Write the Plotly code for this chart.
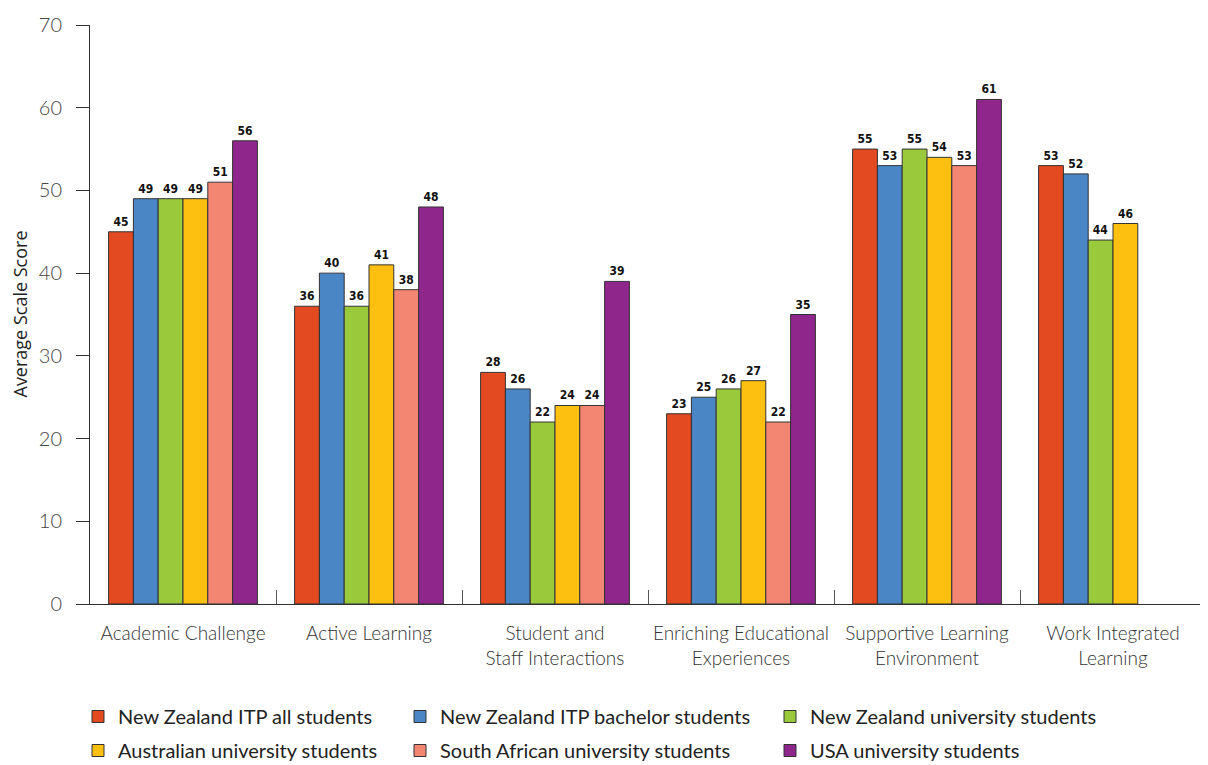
import plotly.graph_objects as go

categories = ["Academic Challenge", "Active Learning", "Student and<br>Staff Interactions",
              "Enriching Educational<br>Experiences", "Supportive Learning<br>Environment",
              "Work Integrated<br>Learning"]
series_names = ["New Zealand ITP all students", "New Zealand ITP bachelor students",
                "New Zealand university students", "Australian university students",
                "South African university students", "USA university students"]
nz_itp_all = [45, 36, 28, 23, 55, 53]
nz_itp_bach = [49, 40, 26, 25, 53, 52]
nz_uni = [49, 36, 22, 26, 55, 44]
aus_uni = [49, 41, 24, 27, 54, 46]
sa_uni = [51, 38, 24, 22, 53, None]
usa_uni = [56, 48, 39, 35, 61, None]
y_ticks = [0, 10, 20, 30, 40, 50, 60, 70]

colors = ["#E44A22", "#4A86C5", "#9AC93C", "#FDC010", "#F28673", "#8E268C"]
values = [nz_itp_all, nz_itp_bach, nz_uni, aus_uni, sa_uni, usa_uni]
legend_ids = ["legend", "legend2", "legend3", "legend", "legend2", "legend3"]

W, H = 1200, 757

fig = go.Figure()
for i, (name, vals) in enumerate(zip(series_names, values)):
    fig.add_trace(go.Bar(
        x=categories, y=vals, name=name,
        marker=dict(color=colors[i], line=dict(color="#333333", width=1)),
        text=[("" if v is None else str(v)) for v in vals],
        textposition="outside",
        textfont=dict(family="DejaVu Sans Condensed", size=12, color="#111111", weight="bold"),
        cliponaxis=False,
        legend=legend_ids[i],
        legendgroup=name,
    ))

leg_common = dict(font=dict(family="Lato", size=20, color="#222222"),
                  xref="container", yref="container", yanchor="top", xanchor="left",
                  tracegroupgap=5, bgcolor="rgba(0,0,0,0)", itemwidth=30)

leg_top = 1 - 689 / H

fig.update_layout(
    width=W, height=H,
    margin=dict(l=82, r=2, t=17, b=161, autoexpand=False),
    paper_bgcolor="white", plot_bgcolor="white",
    barmode="group", bargap=0.2, bargroupgap=0,
    font=dict(family="Lato", color="#444444"),
    showlegend=True,
    legend=dict(x=70 / W, y=leg_top, **leg_common),
    legend2=dict(x=392 / W, y=leg_top, **leg_common),
    legend3=dict(x=762 / W, y=leg_top, **leg_common),
    xaxis=dict(
        automargin=False,
        showline=True, linecolor="#333333", linewidth=1,
        ticks="inside", tickson="boundaries", ticklen=14, tickcolor="#555555",
        tickfont=dict(family="Lato", size=19, color="#333333", weight=300),
        tickangle=0, ticklabelstandoff=12,
        showgrid=False,
    ),
    yaxis=dict(
        automargin=False,
        range=[0, 70], tickvals=y_ticks,
        showline=True, linecolor="#333333", linewidth=1,
        ticks="outside", ticklen=13, tickcolor="#333333",
        tickfont=dict(family="Lato", size=20, color="#444444", weight=300),
        ticklabelstandoff=10,
        showgrid=False, zeroline=False,
    ),
    annotations=[dict(
        text="Average Scale Score", textangle=-90,
        xref="paper", x=0, xshift=-71, xanchor="center",
        yref="paper", y=0.5, yanchor="middle",
        showarrow=False, font=dict(family="Open Sans", size=18, color="#222222"),
    )],
)

fig.write_html("out.html")
